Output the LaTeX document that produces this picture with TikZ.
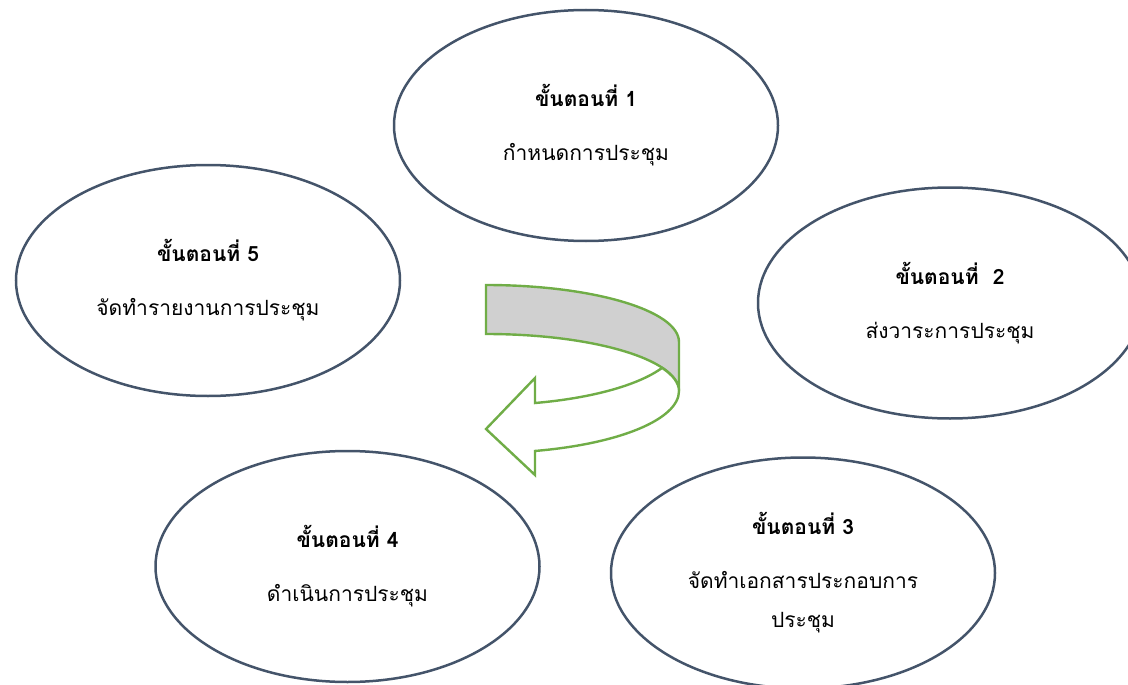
\documentclass[tikz,border=0pt]{standalone}
\usepackage{fontspec}
\newfontfamily\thaifont[Script=Thai]{Loma}
\usetikzlibrary{shapes.geometric}

\definecolor{ringline}{HTML}{44546A}
\definecolor{arrowgreen}{HTML}{70AD47}
\definecolor{ribbongrey}{HTML}{D0D0D0}

\begin{document}
\begin{tikzpicture}[x=1pt, y=1pt,
  stepel/.style={draw=ringline, line width=2.5pt, ellipse, minimum width=384pt, minimum height=231pt,
    inner sep=0pt, align=center, font=\thaifont\fontsize{21}{39}\selectfont},
  arrowline/.style={draw=arrowgreen, line width=2.4pt, line join=miter}]
  \useasboundingbox (0,0) rectangle (1128,-685);
  \clip (0,0) rectangle (1128,-685);

  \node[stepel] (s1) at (586,-125.5) {\textbf{ขั้นตอนที่ 1}\\[15pt]กำหนดการประชุม};
  \node[stepel] (s2) at (950,-303) {\textbf{ขั้นตอนที่~~2}\\[15pt]ส่งวาระการประชุม};
  \node[stepel] (s3) at (803,-573) {\textbf{ขั้นตอนที่ 3}\\[15pt]จัดทำเอกสารประกอบการ\\ประชุม};
  \node[stepel] (s4) at (347.5,-566.5) {\textbf{ขั้นตอนที่ 4}\\[15pt]ดำเนินการประชุม};
  \node[stepel] (s5) at (208,-280.5) {\textbf{ขั้นตอนที่ 5}\\[15pt]จัดทำรายงานการประชุม};

  % back part of the curved arrow
  \path[arrowline, fill=ribbongrey] (486,-285) arc[start angle=90, end angle=0, x radius=193, y radius=57]
    -- (679,-391) arc[start angle=0, end angle=90, x radius=193, y radius=57] -- cycle;
  % front part with the head
  \path[arrowline, fill=white] (679,-391) arc[start angle=0, end angle=-75.3, x radius=193, y radius=62]
    -- (535,-475) -- (486,-429) -- (535,-378) -- (535,-403)
    arc[start angle=-75.3, end angle=-24.2, x radius=193, y radius=63]
    arc[start angle=24.2, end angle=0, x radius=193, y radius=57] -- cycle;
\end{tikzpicture}
\end{document}
